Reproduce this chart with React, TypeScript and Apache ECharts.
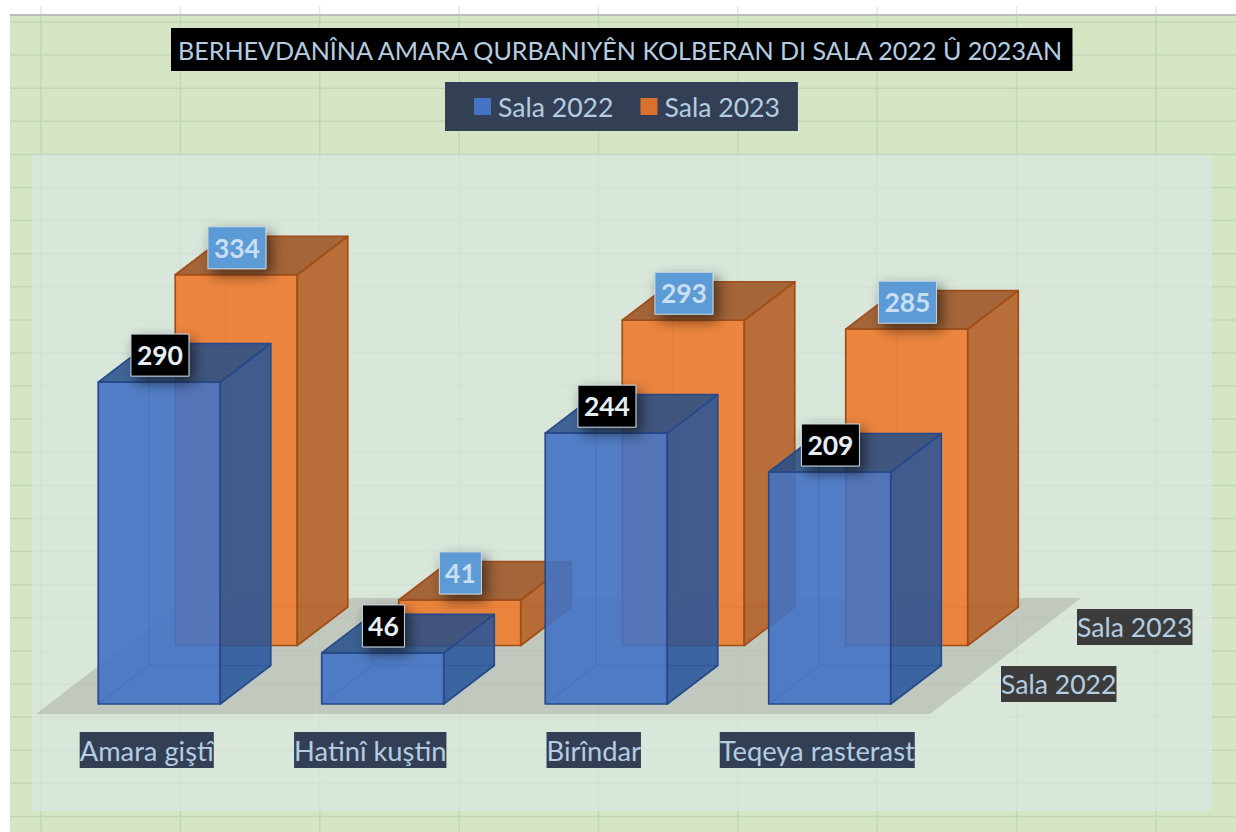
import React, { useEffect, useRef } from "react";
import * as echarts from "echarts";

const titleText = "BERHEVDANÎNA AMARA QURBANIYÊN KOLBERAN DI SALA 2022 Û 2023AN";
const categories = ["Amara giştî", "Hatinî kuştin", "Birîndar", "Teqeya rasterast"];
const seriesNames = ["Sala 2022", "Sala 2023"];
const values2022 = [290, 46, 244, 209];
const values2023 = [334, 41, 293, 285];

const FONT = "Lato";
const blue = {
  front: "rgba(66,114,196,0.9)", side: "rgba(35,83,155,0.85)", top: "rgba(35,78,138,0.85)",
  edge: "#27498a", inner: "rgba(39,73,138,0.6)", icon: "#4472c4", labelBg: "#000000", labelFg: "#e6eef5",
};
const orange = {
  front: "rgba(238,125,49,0.92)", side: "rgba(182,100,44,0.92)", top: "rgba(160,90,42,0.92)",
  edge: "#a04e18", inner: "rgba(160,78,24,0.5)", icon: "#d9702d", labelBg: "#5b9bd5", labelFg: "#c9def1",
};

function boxSeries(name: string, values: number[], pal: typeof blue, shiftX: number, shiftY: number) {
  return {
    type: "custom",
    name,
    clip: false,
    itemStyle: { color: pal.icon },
    encode: { x: 0, y: 1 },
    data: values.map((v, i) => [i, v]),
    renderItem: (_p: any, api: any) => {
      const base = api.coord([api.value(0), 0]);
      const head = api.coord([api.value(0), api.value(1)]);
      const w = api.size([1, 0])[0] * 0.546;
      const x0 = base[0] + shiftX - w / 2;
      const x1 = x0 + w;
      const yb = base[1] + shiftY;
      const yt = head[1] + shiftY;
      const dx = 50.5;
      const dy = -38.5;
      const poly = (points: number[][], fill: string) => ({
        type: "polygon",
        shape: { points },
        style: { fill, stroke: pal.edge, lineWidth: 1.7, lineJoin: "round" },
      });
      const inner = (points: number[][]) => ({
        type: "polyline",
        shape: { points },
        style: { fill: "none", stroke: pal.inner, lineWidth: 1.4 },
      });
      const lw = String(api.value(1)).length === 3 ? 58 : 42;
      const lx = x0 + w / 2 + 0.7;
      const ly = yt - 27;
      return {
        type: "group",
        children: [
          inner([[x0 + dx, yt + dy], [x0 + dx, yb + dy], [x1 + dx, yb + dy]]),
          inner([[x0, yb], [x0 + dx, yb + dy]]),
          poly([[x0, yt], [x1, yt], [x1, yb], [x0, yb]], pal.front),
          poly([[x1, yt], [x1 + dx, yt + dy], [x1 + dx, yb + dy], [x1, yb]], pal.side),
          poly([[x0, yt], [x0 + dx, yt + dy], [x1 + dx, yt + dy], [x1, yt]], pal.top),
          {
            type: "rect",
            z2: 20,
            shape: { x: lx - lw / 2, y: ly - 21, width: lw, height: 42 },
            style: {
              fill: pal.labelBg, stroke: "#c8d6e0", lineWidth: 1,
              shadowBlur: 14, shadowOffsetX: 5, shadowOffsetY: 6, shadowColor: "rgba(0,0,0,0.55)",
            },
          },
          {
            type: "text",
            z2: 21,
            style: {
              x: lx, y: ly, text: String(api.value(1)), align: "center", verticalAlign: "middle",
              fill: pal.labelFg, font: `bold 26.5px ${FONT}`,
            },
          },
        ],
      };
    },
  };
}

function sceneGraphics() {
  const items: any[] = [];
  const gridOuter = "#c4d5b8";
  items.push({ type: "rect", z: -10, shape: { x: 10, y: 16, width: 1226, height: 816 }, style: { fill: "#d6e6c5" } });
  for (let i = 0; i < 9; i++) {
    const x = 41 + 139.37 * i;
    items.push({ type: "line", z: -9, shape: { x1: x, y1: 6, x2: x, y2: 16 }, style: { stroke: "#e6e6e6", lineWidth: 1.5 } });
    items.push({ type: "line", z: -9, shape: { x1: x, y1: 16, x2: x, y2: 832 }, style: { stroke: gridOuter, lineWidth: 1.5 } });
  }
  for (let i = 0; i < 25; i++) {
    const y = 22 + 33.1 * i;
    items.push({ type: "line", z: -9, shape: { x1: 10, y1: y, x2: 1236, y2: y }, style: { stroke: gridOuter, lineWidth: 1.5 } });
  }
  items.push({ type: "rect", z: -8, shape: { x: 10, y: 14, width: 1226, height: 2 }, style: { fill: "#bdbdbd" } });
  items.push({ type: "rect", z: -7, shape: { x: 32, y: 155, width: 1180, height: 656 }, style: { fill: "rgba(218,230,228,0.68)" } });
  items.push({
    type: "polygon", z: -6,
    shape: { points: [[36, 714], [930, 714], [1081, 598], [187, 598]] },
    style: { fill: "rgba(160,160,150,0.42)" },
  });
  const depth = [{ t: seriesNames[0], x: 1001, y: 666 }, { t: seriesNames[1], x: 1077, y: 609 }];
  depth.forEach((d) =>
    items.push({
      type: "text", z: 5, x: d.x, y: d.y,
      style: {
        text: d.t, fill: "#b4cde0", font: `26.6px ${FONT}`, backgroundColor: "#3b3b3b",
        lineHeight: 36, align: "left", verticalAlign: "top",
      },
    })
  );
  return items;
}

export default function App() {
  const ref = useRef<HTMLDivElement>(null);
  useEffect(() => {
    const chart = echarts.init(ref.current!, undefined, { renderer: "svg" });
    chart.setOption({
      animation: false,
      backgroundColor: "#ffffff",
      title: {
        text: titleText, left: 171, top: 28, padding: [8, 7, 8, 7], backgroundColor: "#000000",
        textStyle: { color: "#b4cde0", fontFamily: FONT, fontWeight: "normal", fontSize: 25.1, lineHeight: 27 },
      },
      legend: {
        left: 445, top: 82, padding: [10, 18, 10, 29], itemGap: 27, itemWidth: 17, itemHeight: 17,
        backgroundColor: "#323f55",
        data: [
          { name: seriesNames[0], icon: "rect", itemStyle: { color: blue.icon } },
          { name: seriesNames[1], icon: "rect", itemStyle: { color: orange.icon } },
        ],
        textStyle: { color: "#b4cde0", fontFamily: FONT, fontSize: 26.6, lineHeight: 29, padding: [0, 0, 0, 2] },
      },
      grid: { left: 35, right: 307, top: 260, bottom: 128 },
      xAxis: {
        type: "category", data: categories,
        axisLine: { show: false }, axisTick: { show: false }, splitLine: { show: false },
        axisLabel: {
          interval: 0, margin: 28, color: "#b4cde0", fontFamily: FONT, fontSize: 27.3,
          backgroundColor: "#323f55", lineHeight: 36,
        },
      },
      yAxis: { type: "value", min: 0, max: 400, show: false },
      graphic: { elements: sceneGraphics() },
      series: [
        boxSeries(seriesNames[1], values2023, orange, 89.5, -58.5),
        boxSeries(seriesNames[0], values2022, blue, 12.5, 0),
      ],
    });
    return () => chart.dispose();
  }, []);
  return <div ref={ref} style={{ position: "fixed", left: 0, top: 0, width: 1236, height: 832 }} />;
}
